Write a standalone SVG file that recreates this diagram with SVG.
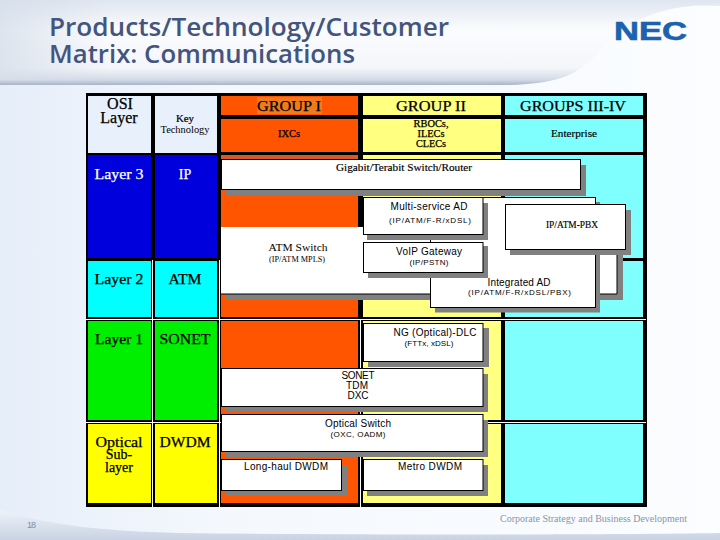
<svg xmlns="http://www.w3.org/2000/svg" width="720" height="540" viewBox="0 0 720 540">
<defs>
<linearGradient id="bg" x1="0" y1="0" x2="1" y2="0"><stop offset="0" stop-color="#e6eefa"/><stop offset="0.3" stop-color="#f4f8fd"/><stop offset="1" stop-color="#fbfdff"/></linearGradient>
<linearGradient id="band" x1="0" y1="0" x2="0" y2="1"><stop offset="0" stop-color="#dfe6f0"/><stop offset="0.35" stop-color="#fbfcfe"/><stop offset="0.8" stop-color="#f4f6fa"/><stop offset="0.94" stop-color="#d3dae6"/><stop offset="1" stop-color="#a9b3c7"/></linearGradient>
<linearGradient id="bandL" x1="0" y1="0" x2="1" y2="0"><stop offset="0" stop-color="#d5deea" stop-opacity="0.8"/><stop offset="1" stop-color="#d5deea" stop-opacity="0"/></linearGradient>
<linearGradient id="foot" x1="0" y1="0" x2="0" y2="1"><stop offset="0" stop-color="#eef3fa"/><stop offset="1" stop-color="#c8d2e2"/></linearGradient>
</defs>
<style>
.s{fill:#808080}
.b{fill:#fff;stroke:#000;stroke-width:1}
.h{font-family:"Liberation Serif",serif;text-anchor:middle;fill:#000;stroke:#000;stroke-width:.25}
.n{font-family:"Liberation Serif",serif;text-anchor:middle;fill:#000}
.t{font-family:"Liberation Sans",sans-serif;text-anchor:middle;fill:#000}
.w{fill:#fff}
.k{fill:#fff;stroke:#fff}
</style>
<rect width="720" height="540" fill="url(#bg)"/>
<path d="M0 0H720V6C690 4 640 6 600 50C580 74 560 85 500 85H0Z" fill="url(#band)"/>
<rect width="110" height="80" fill="url(#bandL)"/>
<path d="M0 510C50 525 100 531 180 533C350 535 600 535 720 533V540H0Z" fill="url(#foot)"/>
<g id="title">
<text x="49" y="36" font-family="'Open Sans',sans-serif" font-weight="600" font-size="26" fill="#43557f" textLength="400" lengthAdjust="spacingAndGlyphs">Products/Technology/Customer</text>
<text x="49" y="63" font-family="'Open Sans',sans-serif" font-weight="600" font-size="26" fill="#43557f" textLength="306" lengthAdjust="spacingAndGlyphs">Matrix: Communications</text>
</g>
<g id="logo"><text x="614" y="40" font-family="'Liberation Sans',sans-serif" font-weight="bold" font-size="25" fill="#1c62ad" stroke="#1c62ad" stroke-width="0.6" textLength="73" lengthAdjust="spacingAndGlyphs">NEC</text></g>
<g id="table">
<rect x="86" y="93" width="561" height="414" fill="#000"/>
<rect x="88" y="96" width="63" height="57" fill="#e8f1fb"/>
<rect x="155" y="96" width="62" height="57" fill="#e8f1fb"/>
<rect x="88" y="155" width="63" height="103" fill="#0000dc"/>
<rect x="155" y="155" width="62" height="103" fill="#0000dc"/>
<rect x="88" y="261" width="63" height="56" fill="#00ffff"/>
<rect x="155" y="261" width="62" height="56" fill="#00ffff"/>
<rect x="88" y="321" width="63" height="99" fill="#00ee00"/>
<rect x="155" y="321" width="62" height="99" fill="#00ee00"/>
<rect x="88" y="424" width="63" height="79" fill="#ffff00"/>
<rect x="155" y="424" width="62" height="79" fill="#ffff00"/>
<rect x="221" y="96" width="137" height="19" fill="#ff5500"/>
<rect x="221" y="119" width="137" height="33" fill="#ff5500"/>
<rect x="221" y="155" width="137" height="162" fill="#ff5500"/>
<rect x="221" y="155" width="137" height="5" fill="#d9572a"/>
<rect x="221" y="321" width="137" height="99" fill="#ff5500"/>
<rect x="221" y="424" width="137" height="79" fill="#ff5500"/>
<rect x="257" y="97" width="65" height="17" fill="#f07a1c"/>
<rect x="363" y="96" width="138" height="19" fill="#ffff80"/>
<rect x="363" y="119" width="138" height="33" fill="#ffff80"/>
<rect x="363" y="155" width="138" height="162" fill="#ffff80"/>
<rect x="363" y="321" width="138" height="99" fill="#ffff80"/>
<rect x="363" y="424" width="138" height="79" fill="#ffff80"/>
<rect x="505" y="96" width="138" height="19" fill="#80ffff"/>
<rect x="505" y="119" width="138" height="33" fill="#80ffff"/>
<rect x="505" y="155" width="138" height="103" fill="#80ffff"/>
<rect x="505" y="261" width="138" height="56" fill="#80ffff"/>
<rect x="505" y="321" width="138" height="99" fill="#80ffff"/>
<rect x="505" y="424" width="138" height="79" fill="#80ffff"/>
<rect class="w" x="86" y="319" width="560" height="1"/>
<rect class="w" x="86" y="422" width="560" height="1"/>
<rect class="w" x="152" y="260" width="1" height="247"/>
<rect class="w" x="219" y="260" width="1" height="247"/>
<rect class="w" x="360" y="319" width="1" height="188"/>
<text class="h" x="120" y="109" font-size="16">OSI</text>
<text class="h" x="119" y="123" font-size="16">Layer</text>
<text class="n" x="185" y="122" font-size="9.5" stroke="#000" stroke-width=".2" textLength="18" lengthAdjust="spacingAndGlyphs">Key</text>
<text class="n" x="185" y="133" font-size="9.5" textLength="49" lengthAdjust="spacingAndGlyphs">Technology</text>
<text class="h k" x="119" y="179" font-size="14" textLength="49" lengthAdjust="spacingAndGlyphs">Layer 3</text>
<text class="h k" x="185" y="179" font-size="14">IP</text>
<text class="h" x="119" y="284" font-size="14" textLength="49" lengthAdjust="spacingAndGlyphs">Layer 2</text>
<text class="h" x="185" y="284" font-size="14" textLength="33" lengthAdjust="spacingAndGlyphs">ATM</text>
<text class="h" x="119" y="344" font-size="14" textLength="48" lengthAdjust="spacingAndGlyphs">Layer 1</text>
<text class="h" x="185" y="344" font-size="14" textLength="51" lengthAdjust="spacingAndGlyphs">SONET</text>
<text class="h" x="119" y="447" font-size="14" textLength="47" lengthAdjust="spacingAndGlyphs">Optical</text>
<text class="h" x="119" y="459" font-size="14">Sub-</text>
<text class="h" x="119" y="472" font-size="14">layer</text>
<text class="h" x="185" y="447" font-size="14" textLength="51" lengthAdjust="spacingAndGlyphs">DWDM</text>
<text class="h" x="289" y="111" font-size="14" textLength="64" lengthAdjust="spacingAndGlyphs">GROUP I</text>
<text class="h" x="431" y="111" font-size="14" textLength="70" lengthAdjust="spacingAndGlyphs">GROUP II</text>
<text class="h" x="573" y="111" font-size="14" textLength="106" lengthAdjust="spacingAndGlyphs">GROUPS III-IV</text>
<text class="h" x="289" y="137" font-size="9.5" textLength="22" lengthAdjust="spacingAndGlyphs">IXCs</text>
<text class="h" x="431" y="127" font-size="9.5" textLength="35" lengthAdjust="spacingAndGlyphs">RBOCs,</text>
<text class="h" x="431" y="137" font-size="9.5" textLength="27" lengthAdjust="spacingAndGlyphs">ILECs</text>
<text class="h" x="431" y="147" font-size="9.5" textLength="30" lengthAdjust="spacingAndGlyphs">CLECs</text>
<text class="n" x="574" y="137" font-size="9.5" stroke="#000" stroke-width=".15" textLength="46" lengthAdjust="spacingAndGlyphs">Enterprise</text>
</g>
<g id="connectors"></g>
<g id="atm-switch">
<rect class="s" x="226" y="233" width="397" height="67"/>
<rect class="w" x="221" y="227" width="396" height="67"/>
<path d="M617 232V294H221" fill="none" stroke="#000"/>
<text class="n" x="298" y="251" font-size="10.500" textLength="59" lengthAdjust="spacingAndGlyphs">ATM Switch</text>
<text class="n" x="297" y="262" font-size="8" textLength="56" lengthAdjust="spacingAndGlyphs">(IP/ATM MPLS)</text>
</g>
<g id="gigabit">
<rect class="s" x="226" y="165" width="360" height="31"/>
<rect class="b" x="221.500" y="159.500" width="359" height="30"/>
<text class="n" x="404" y="171" font-size="10" stroke="#000" stroke-width=".15" textLength="136" lengthAdjust="spacingAndGlyphs">Gigabit/Terabit Switch/Router</text>
</g>
<g id="integrated-ad">
<rect class="s" x="435" y="202" width="165" height="110.500"/>
<rect class="b" x="430.500" y="197.500" width="165" height="110"/>
<text class="t" x="519" y="286" font-size="10" textLength="63" lengthAdjust="spacing">Integrated AD</text>
<text class="t" x="519.500" y="295" font-size="8" textLength="103" lengthAdjust="spacing">(IP/ATM/F-R/xDSL/PBX)</text>
</g>
<g id="multi-service">
<rect class="s" x="367" y="203" width="121" height="37"/>
<rect class="b" x="363.500" y="197.500" width="119.500" height="37"/>
<text class="t" x="429" y="210" font-size="10" textLength="77" lengthAdjust="spacing">Multi-service AD</text>
<text class="t" x="430" y="223" font-size="8" textLength="82" lengthAdjust="spacing">(IP/ATM/F-R/xDSL)</text>
</g>
<g id="voip">
<rect class="s" x="368" y="246" width="120" height="32"/>
<rect class="b" x="363.500" y="242.500" width="119.500" height="30"/>
<text class="t" x="429" y="255" font-size="10" textLength="66" lengthAdjust="spacing">VoIP Gateway</text>
<text class="t" x="429" y="265" font-size="8" textLength="39" lengthAdjust="spacing">(IP/PSTN)</text>
</g>
<g id="ip-atm-pbx">
<rect class="s" x="510" y="210" width="121" height="45"/>
<rect class="b" x="505.500" y="204.500" width="120" height="45"/>
<text class="n" x="572" y="228" font-size="9.500" stroke="#000" stroke-width=".15" textLength="52" lengthAdjust="spacingAndGlyphs">IP/ATM-PBX</text>
</g>
<g id="ng-dlc">
<rect class="s" x="368" y="328" width="121" height="39"/>
<rect class="b" x="363.500" y="323.500" width="119.500" height="38"/>
<text class="t" x="435" y="336" font-size="10" textLength="83" lengthAdjust="spacing">NG (Optical)-DLC</text>
<text class="t" x="429" y="346" font-size="8" textLength="49" lengthAdjust="spacing">(FTTx, xDSL)</text>
</g>
<g id="sonet-tdm">
<rect class="s" x="226" y="374" width="262" height="38"/>
<rect class="b" x="221.500" y="368.500" width="261.500" height="38"/>
<text class="t" x="358" y="379" font-size="10" textLength="33" lengthAdjust="spacing">SONET</text>
<text class="t" x="357" y="389" font-size="10" textLength="22" lengthAdjust="spacing">TDM</text>
<text class="t" x="358" y="399" font-size="10" textLength="21" lengthAdjust="spacing">DXC</text>
</g>
<g id="optical-switch">
<rect class="s" x="226" y="420" width="262" height="37"/>
<rect class="b" x="221.500" y="414.500" width="261.500" height="37"/>
<text class="t" x="358" y="427" font-size="10" textLength="66" lengthAdjust="spacing">Optical Switch</text>
<text class="t" x="358" y="437" font-size="8" textLength="55" lengthAdjust="spacing">(OXC, OADM)</text>
</g>
<g id="long-haul">
<rect class="s" x="226" y="465" width="122" height="31"/>
<rect class="b" x="221.500" y="459.500" width="120" height="31"/>
<text class="t" x="286" y="470" font-size="10" textLength="84" lengthAdjust="spacing">Long-haul DWDM</text>
</g>
<g id="metro">
<rect class="s" x="367" y="465" width="121" height="31"/>
<rect class="b" x="363.500" y="459.500" width="119.500" height="31"/>
<text class="t" x="430" y="470" font-size="10" textLength="64" lengthAdjust="spacing">Metro DWDM</text>
</g>
<text x="27" y="528" font-family="'Liberation Sans',sans-serif" font-size="9" fill="#7f8fa8" textLength="9">18</text>
<text x="500" y="522" font-family="'Liberation Serif',serif" font-size="10.500" fill="#8494ad" textLength="187" lengthAdjust="spacingAndGlyphs">Corporate Strategy and Business Development</text>
</svg>
